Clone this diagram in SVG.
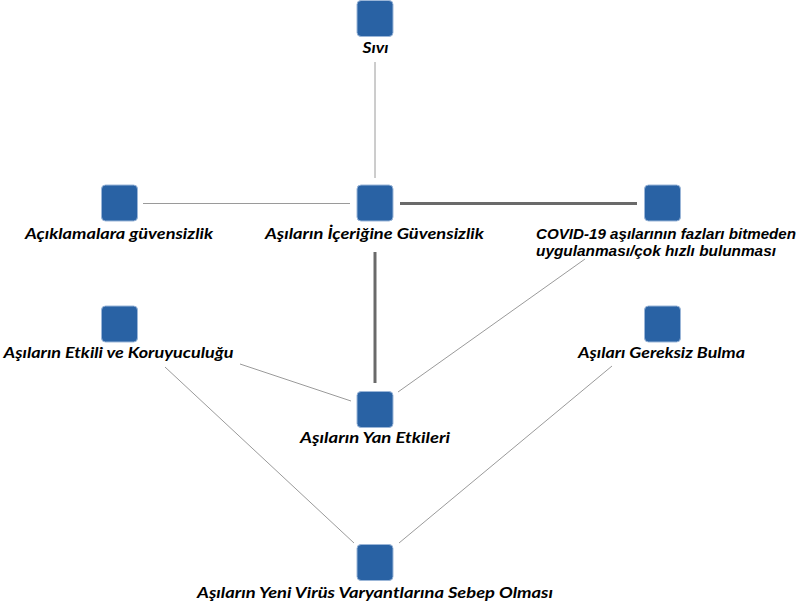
<svg xmlns="http://www.w3.org/2000/svg" width="799" height="609" viewBox="0 0 799 609">
<style>
.n{fill:#2962a4;stroke:#9bb6d8;stroke-width:1}
.t{font-family:Lato,"Open Sans","Noto Sans",sans-serif;font-weight:bold;font-style:italic;font-size:16px;fill:#000}
.ta{font-family:"Liberation Sans",Arial,sans-serif;font-weight:bold;font-style:italic;font-size:14px;fill:#000}
.e{stroke:#9a9a9a;stroke-width:1;fill:none}
.k{stroke:#6a6a6a;stroke-width:3;fill:none}
</style>
<rect width="799" height="609" fill="#fff"/>
<g id="edges">
<line class="e" x1="375" y1="62" x2="375" y2="178"/>
<line class="e" x1="143" y1="203.5" x2="350" y2="203.5"/>
<line class="k" x1="400" y1="203.5" x2="637" y2="203.5"/>
<line class="k" x1="375" y1="252" x2="375" y2="383"/>
<line class="e" x1="585" y1="259" x2="398" y2="392"/>
<line class="e" x1="240" y1="364" x2="351" y2="401"/>
<line class="e" x1="165" y1="367" x2="354" y2="543"/>
<line class="e" x1="612" y1="366" x2="399" y2="543"/>
</g>
<g id="n-sivi">
<rect class="n" x="357" y="0.5" width="36" height="36" rx="4"/>
<text class="t" x="375.5" y="53" text-anchor="middle" textLength="26" lengthAdjust="spacingAndGlyphs">Sıvı</text>
</g>
<g id="n-aciklamalara">
<rect class="n" x="101.5" y="185" width="36" height="36" rx="4"/>
<text class="t" x="119" y="239" text-anchor="middle" textLength="188" lengthAdjust="spacingAndGlyphs">Açıklamalara güvensizlik</text>
</g>
<g id="n-icerigine">
<rect class="n" x="357" y="185" width="36" height="36" rx="4"/>
<text class="t" x="374.5" y="239" text-anchor="middle" textLength="219" lengthAdjust="spacingAndGlyphs">Aşıların İçeriğine Güvensizlik</text>
</g>
<g id="n-covid">
<rect class="n" x="644.5" y="185" width="36" height="36" rx="4"/>
<text class="ta" x="536" y="239" textLength="260" lengthAdjust="spacingAndGlyphs">COVID-19 aşılarının fazları bitmeden</text>
<text class="ta" x="536" y="256" textLength="240" lengthAdjust="spacingAndGlyphs">uygulanması/çok hızlı bulunması</text>
</g>
<g id="n-etkili">
<rect class="n" x="101.5" y="306" width="36" height="36" rx="4"/>
<text class="t" x="118.5" y="358" text-anchor="middle" textLength="230" lengthAdjust="spacingAndGlyphs">Aşıların Etkili ve Koruyuculuğu</text>
</g>
<g id="n-gereksiz">
<rect class="n" x="644.5" y="306" width="36" height="36" rx="4"/>
<text class="t" x="661.5" y="358" text-anchor="middle" textLength="167" lengthAdjust="spacingAndGlyphs">Aşıları Gereksiz Bulma</text>
</g>
<g id="n-yan">
<rect class="n" x="357" y="391.5" width="36" height="36" rx="4"/>
<text class="t" x="375" y="443" text-anchor="middle" textLength="150" lengthAdjust="spacingAndGlyphs">Aşıların Yan Etkileri</text>
</g>
<g id="n-yeni">
<rect class="n" x="357" y="544.5" width="36" height="36" rx="4"/>
<text class="t" x="375" y="598" text-anchor="middle" textLength="356" lengthAdjust="spacingAndGlyphs">Aşıların Yeni Virüs Varyantlarına Sebep Olması</text>
</g>
</svg>
